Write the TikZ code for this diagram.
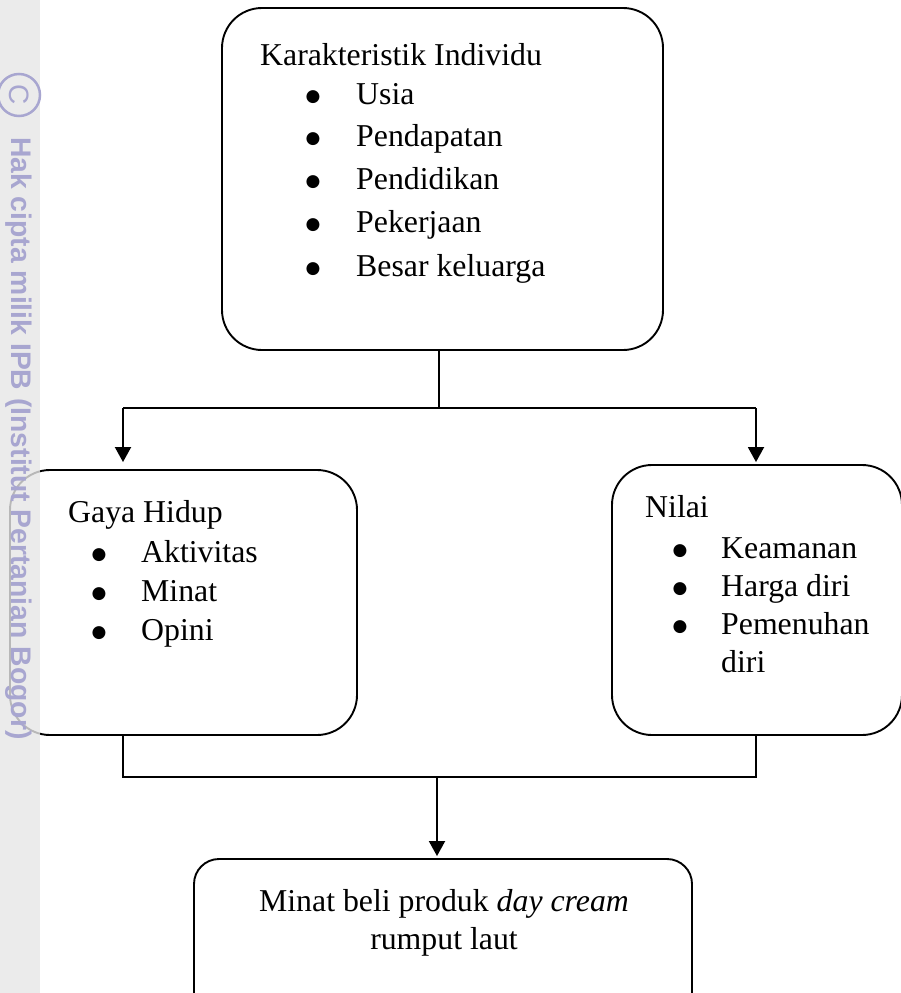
\documentclass[tikz,border=0pt]{standalone}
\usepackage{fontspec}
\setmainfont{Liberation Serif}
\newfontfamily\wmfont{Liberation Sans}
\newfontfamily\bulfont{DejaVu Sans}
\usetikzlibrary{arrows.meta}
\definecolor{stripgrey}{RGB}{230,230,230}
\definecolor{wmtext}{RGB}{168,166,208}
\begin{document}
\begin{tikzpicture}[x=1pt,y=-1pt,
  box/.style={draw, line width=1.9pt, rounded corners=40pt, inner sep=0pt},
  conn/.style={line width=1.9pt},
  arr/.style={conn, -{Triangle[length=15pt,width=16pt]}},
  txt/.style={anchor=base west, inner sep=0pt, font=\fontsize{31.8}{38}\selectfont},
  bul/.style={anchor=base, inner sep=0pt, yshift=3pt, font=\bulfont\fontsize{17}{17}\selectfont},
  ctxt/.style={anchor=base, inner sep=0pt, font=\fontsize{31.8}{38}\selectfont},
  wm/.style={text=wmtext, inner sep=0pt, rotate=-90, font=\wmfont\bfseries\fontsize{28.3}{28}\selectfont}
]
\useasboundingbox (0,0) rectangle (901,993);

% boxes
\node[box, minimum width=441pt, minimum height=342pt] (top) at (442.5,179) {};
\node[box, minimum width=347pt, minimum height=265pt] (left) at (183.5,602.5) {};
\node[box, minimum width=290pt, minimum height=270pt] (right) at (757,600) {};
\node[box, rounded corners=25pt, minimum width=498pt, minimum height=170pt] (bottom) at (443,944) {};

% top box text
\node[txt] (t0) at (260,65) {Karakteristik Individu};
\node[bul] (b1) at (313,104) {●};
\node[bul] (b2) at (313,146) {●};
\node[bul] (b3) at (313,189) {●};
\node[bul] (b4) at (313,232) {●};
\node[bul] (b5) at (313,276) {●};
\node[txt] (t1) at (356,104) {Usia};
\node[txt] (t2) at (356,146) {Pendapatan};
\node[txt] (t3) at (356,189) {Pendidikan};
\node[txt] (t4) at (356,232) {Pekerjaan};
\node[txt] (t5) at (356,276) {Besar keluarga};

% left box text
\node[txt] (l0) at (68,522) {Gaya Hidup};
\node[bul] (lb1) at (99,562) {●};
\node[bul] (lb2) at (99,601) {●};
\node[bul] (lb3) at (99,640) {●};
\node[txt] (l1) at (141,562) {Aktivitas};
\node[txt] (l2) at (141,601) {Minat};
\node[txt] (l3) at (141,640) {Opini};

% right box text
\node[txt] (r0) at (645,517) {Nilai};
\node[bul] (rb1) at (680,558) {●};
\node[bul] (rb2) at (680,596) {●};
\node[bul] (rb3) at (680,634) {●};
\node[txt] (r1) at (721,558) {Keamanan};
\node[txt] (r2) at (721,596) {Harga diri};
\node[txt] (r3) at (721,634) {Pemenuhan};
\node[txt] (r4) at (721,672) {diri};

% bottom box text
\node[ctxt] (m1) at (444,911) {Minat beli produk \textit{day cream}};
\node[ctxt] (m2) at (444,949) {rumput laut};

% connectors
\coordinate (j1) at (439,408);
\coordinate (la) at (123,408);
\coordinate (ra) at (756,408);
\coordinate (lb) at (123,777);
\coordinate (rb) at (756,777);
\coordinate (mb) at (437,777);
\draw[conn] (top.south -| j1) -- (j1);
\draw[conn] (la) -- (ra);
\draw[arr, shorten >=7pt] (la) -- (la |- left.north);
\draw[arr, shorten >=2pt] (ra) -- (ra |- right.north);
\draw[conn] (left.south -| lb) -- (lb) -- (rb) -- (right.south -| rb);
\draw[arr, shorten >=2pt] (mb) -- (mb |- bottom.north);

% watermark strip
\fill[stripgrey, fill opacity=0.8] (0,0) rectangle (40,993);
\node[circle, draw=wmtext, line width=2.5pt, minimum size=42pt, inner sep=0pt, text=wmtext, rotate=-90, font=\wmfont\fontsize{28}{28}\selectfont] (cc) at (19,95) {C};
\node[wm, anchor=base west] (wmt) at (12,137) {Hak cipta milik IPB (Institut Pertanian Bogor)};
\end{tikzpicture}
\end{document}
